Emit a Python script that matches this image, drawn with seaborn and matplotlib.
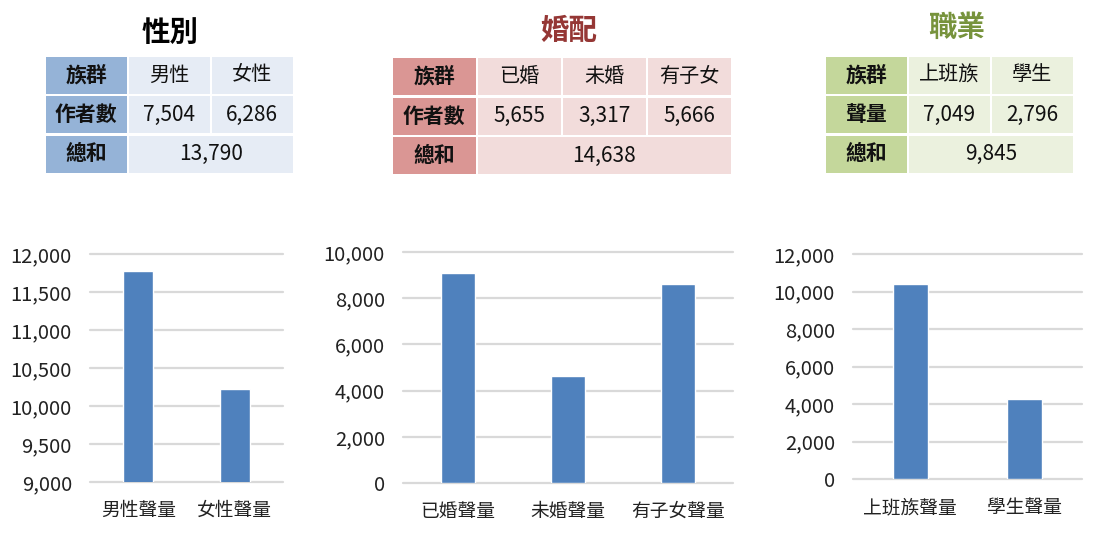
import matplotlib
matplotlib.use("Agg")
import matplotlib.pyplot as plt
from matplotlib.patches import Rectangle
from matplotlib.ticker import FuncFormatter
import pandas as pd
import seaborn as sns

# data
gender_title = "性別"
gender_groups = ["男性", "女性"]
gender_authors = [7504, 6286]
gender_total = 13790
gender_bar_labels = ["男性聲量", "女性聲量"]
gender_volume = [11770, 10230]

marriage_title = "婚配"
marriage_groups = ["已婚", "未婚", "有子女"]
marriage_authors = [5655, 3317, 5666]
marriage_total = 14638
marriage_bar_labels = ["已婚聲量", "未婚聲量", "有子女聲量"]
marriage_volume = [9110, 4620, 8600]

job_title = "職業"
job_groups = ["上班族", "學生"]
job_volume_tbl = [7049, 2796]
job_total = 9845
job_bar_labels = ["上班族聲量", "學生聲量"]
job_volume = [10400, 4250]

sns.set_style("white")
plt.rcParams['font.family'] = ['Noto Sans CJK TC', 'DejaVu Sans']

W, H = 1105, 543
fig = plt.figure(figsize=(W / 100, H / 100), dpi=100)


def px_axes(x, y, w, h):
    return fig.add_axes([x / W, 1 - (y + h) / H, w / W, h / H])


def draw_table(left, top, colw, rowh, gap, row2_name, groups, values, total,
               head_color, body_color):
    ncol = len(groups) + 1
    tw = ncol * colw + (ncol - 1) * gap
    th = 3 * rowh + 2 * gap
    ax = px_axes(left, top, tw, th)
    ax.set_xlim(0, tw)
    ax.set_ylim(th, 0)
    ax.axis("off")
    rows = [["族群"] + groups,
            [row2_name] + [f"{v:,}" for v in values]]
    for r, row in enumerate(rows):
        y0 = r * (rowh + gap)
        for c, txt in enumerate(row):
            x0 = c * (colw + gap)
            col = head_color if c == 0 else body_color
            ax.add_patch(Rectangle((x0, y0), colw, rowh, color=col, lw=0))
            size = 15 if (c == 0 or r == 1) else 14.5
            ax.text(x0 + colw / 2, y0 + rowh / 2, txt, ha="center", va="center",
                    fontsize=size, fontweight="bold" if c == 0 else "normal",
                    color="#111111")
    y0 = 2 * (rowh + gap)
    ax.add_patch(Rectangle((0, y0), colw, rowh, color=head_color, lw=0))
    ax.text(colw / 2, y0 + rowh / 2, "總和", ha="center", va="center",
            fontsize=15, fontweight="bold", color="#111111")
    ax.add_patch(Rectangle((colw + gap, y0), tw - colw - gap, rowh,
                           color=body_color, lw=0))
    ax.text((colw + gap + tw) / 2, y0 + rowh / 2, f"{total:,}", ha="center",
            va="center", fontsize=15, color="#111111")


def draw_bars(rect, labels, values, ylim, step):
    ax = px_axes(*rect)
    df = pd.DataFrame({"label": labels, "value": values})
    sns.barplot(data=df, x="label", y="value", color="#4F81BD", width=0.31,
                saturation=1, ax=ax)
    ax.set_ylim(*ylim)
    ax.set_yticks(range(ylim[0], ylim[1] + 1, step))
    ax.yaxis.set_major_formatter(FuncFormatter(lambda v, p: f"{int(v):,}"))
    ax.set_xlabel("")
    ax.set_ylabel("")
    ax.grid(axis="y", color="#D9D9D9", lw=1.6)
    ax.set_axisbelow(True)
    for ln in ax.get_ygridlines():
        ln.set_clip_on(False)
    sns.despine(ax=ax, left=True, bottom=True)
    ax.tick_params(axis="y", length=0, pad=13, labelsize=14.5, labelcolor="#222222")
    ax.tick_params(axis="x", length=0, pad=13, labelsize=13.5, labelcolor="#222222")


# titles
fig.text(170 / W, 1 - 33 / H, gender_title, ha="center", va="center",
         fontsize=20.5, fontweight="bold", color="#000000")
fig.text(569 / W, 1 - 31 / H, marriage_title, ha="center", va="center",
         fontsize=20.5, fontweight="bold", color="#953735")
fig.text(957 / W, 1 - 28 / H, job_title, ha="center", va="center",
         fontsize=20.5, fontweight="bold", color="#77933C")

# tables
draw_table(46, 56.5, 80.5, 37, 2.5, "作者數", gender_groups, gender_authors,
           gender_total, "#95B3D7", "#E6ECF5")
draw_table(393, 58, 82.5, 37, 2.5, "作者數", marriage_groups, marriage_authors,
           marriage_total, "#DA9694", "#F2DCDB")
draw_table(826, 56.5, 80.5, 37, 2.5, "聲量", job_groups, job_volume_tbl,
           job_total, "#C4D79B", "#EBF1DE")

# bar charts
draw_bars((90, 254, 193, 228), gender_bar_labels, gender_volume, (9000, 12000), 500)
draw_bars((403, 252, 330, 231), marriage_bar_labels, marriage_volume, (0, 10000), 2000)
draw_bars((853, 254, 229, 225), job_bar_labels, job_volume, (0, 12000), 2000)

fig.savefig("out.png", dpi=100, facecolor="white")
